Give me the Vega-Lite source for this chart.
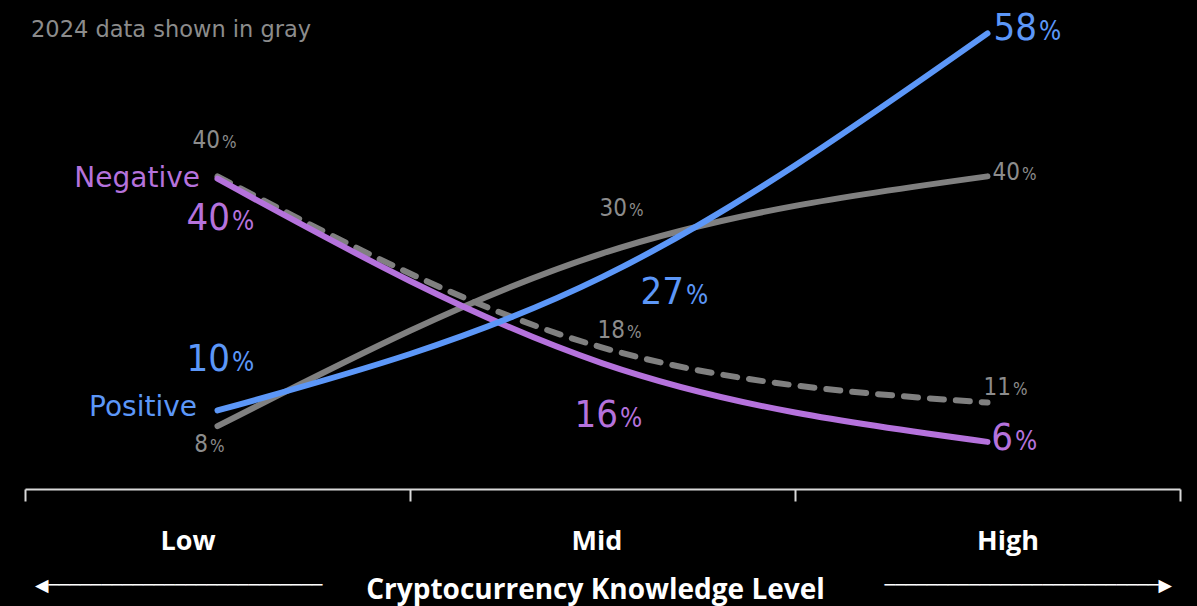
{
  "$schema": "https://vega.github.io/schema/vega-lite/v6.json",
  "width": 1155,
  "height": 487,
  "autosize": "none",
  "padding": {"left": 25, "top": 2, "right": 17, "bottom": 117},
  "background": "#000000",
  "config": {"view": {"stroke": null}},
  "data": {"values": [
    {"level": "Low", "s": "B", "value": 10, "pct": 10},
    {"level": "Mid", "s": "B", "value": 27, "pct": 27},
    {"level": "High", "s": "B", "value": 58, "pct": 58},
    {"level": "Low", "s": "P", "value": 39.5, "pct": 40},
    {"level": "Mid", "s": "P", "value": 16, "pct": 16},
    {"level": "High", "s": "P", "value": 6, "pct": 6},
    {"level": "Low", "s": "G", "value": 8, "pct": 8},
    {"level": "Mid", "s": "G", "value": 30, "pct": 30},
    {"level": "High", "s": "G", "value": 39.8, "pct": 40},
    {"level": "Low", "s": "D", "value": 39.8, "pct": 40},
    {"level": "Mid", "s": "D", "value": 18, "pct": 18},
    {"level": "High", "s": "D", "value": 11, "pct": 11}
  ]},
  "encoding": {
    "x": {"field": "level", "type": "nominal", "sort": ["Low", "Mid", "High"],
      "scale": {"type": "band", "paddingInner": 0, "paddingOuter": 0},
      "axis": {"orient": "bottom", "labelAngle": 0, "domainColor": "#D9D9D9", "domainWidth": 2,
        "ticks": true, "tickBand": "extent", "tickSize": 12, "tickColor": "#D9D9D9", "tickWidth": 2,
        "labelFont": "Open Sans", "labelFontWeight": "bold", "labelFontSize": 27, "labelColor": "#FFFFFF",
        "labelBaseline": "alphabetic", "labelPadding": 48,
        "labelOffset": {"condition": [{"test": "datum.value === 'Low'", "value": -30}, {"test": "datum.value === 'High'", "value": 20}], "value": -6},
        "title": "Cryptocurrency Knowledge Level", "titleFont": "Open Sans", "titleFontWeight": "bold", "titleFontSize": 28, "titleColor": "#FFFFFF",
        "titleBaseline": "alphabetic", "titleAlign": "center", "titleX": 570, "titleY": 109}},
    "y": {"field": "value", "type": "quantitative", "scale": {"domain": [0, 62]}, "axis": null}
  },
  "layer": [
    {"transform": [{"filter": "datum.s === 'G'"}], "mark": {"type": "line", "interpolate": "monotone", "strokeWidth": 6, "strokeCap": "round", "color": "#808080"}},
    {"transform": [{"filter": "datum.s === 'D'"}], "mark": {"type": "line", "interpolate": "monotone", "strokeWidth": 6, "strokeCap": "round", "strokeDash": [14, 12], "color": "#808080"}},
    {"transform": [{"filter": "datum.s === 'P'"}], "mark": {"type": "line", "interpolate": "monotone", "strokeWidth": 6, "strokeCap": "round", "color": "#B572DC"}},
    {"transform": [{"filter": "datum.s === 'B'"}], "mark": {"type": "line", "interpolate": "monotone", "strokeWidth": 6, "strokeCap": "round", "color": "#5C97F8"}},

    {"transform": [{"filter": "datum.s === 'B' && datum.level === 'High'"}], "layer": [
      {"mark": {"type": "text", "align": "right", "baseline": "alphabetic", "dx": 49.5, "dy": 7, "font": "DejaVu Sans Condensed", "fontSize": 38, "color": "#5C97F8"}, "encoding": {"text": {"field": "pct"}}},
      {"mark": {"type": "text", "align": "left", "baseline": "alphabetic", "dx": 51.5, "dy": 7, "font": "DejaVu Sans Condensed", "fontSize": 26, "color": "#5C97F8", "text": "%"}}]},
    {"transform": [{"filter": "datum.s === 'B' && datum.level === 'Mid'"}], "layer": [
      {"mark": {"type": "text", "align": "right", "baseline": "alphabetic", "dx": 81.5, "dy": 27, "font": "DejaVu Sans Condensed", "fontSize": 38, "color": "#5C97F8"}, "encoding": {"text": {"field": "pct"}}},
      {"mark": {"type": "text", "align": "left", "baseline": "alphabetic", "dx": 83.5, "dy": 27, "font": "DejaVu Sans Condensed", "fontSize": 26, "color": "#5C97F8", "text": "%"}}]},
    {"transform": [{"filter": "datum.s === 'B' && datum.level === 'Low'"}], "layer": [
      {"mark": {"type": "text", "align": "right", "baseline": "alphabetic", "dx": 12.5, "dy": -39, "font": "DejaVu Sans Condensed", "fontSize": 38, "color": "#5C97F8"}, "encoding": {"text": {"field": "pct"}}},
      {"mark": {"type": "text", "align": "left", "baseline": "alphabetic", "dx": 14.5, "dy": -39, "font": "DejaVu Sans Condensed", "fontSize": 26, "color": "#5C97F8", "text": "%"}},
      {"mark": {"type": "text", "align": "right", "baseline": "alphabetic", "dx": -20.5, "dy": 6, "font": "DejaVu Sans", "fontSize": 28, "color": "#5C97F8", "text": "Positive"}}]},

    {"transform": [{"filter": "datum.s === 'P' && datum.level === 'Low'"}], "layer": [
      {"mark": {"type": "text", "align": "right", "baseline": "alphabetic", "dx": 12.5, "dy": 51, "font": "DejaVu Sans Condensed", "fontSize": 38, "color": "#B572DC"}, "encoding": {"text": {"field": "pct"}}},
      {"mark": {"type": "text", "align": "left", "baseline": "alphabetic", "dx": 14.5, "dy": 51, "font": "DejaVu Sans Condensed", "fontSize": 26, "color": "#B572DC", "text": "%"}},
      {"mark": {"type": "text", "align": "right", "baseline": "alphabetic", "dx": -17.5, "dy": 8, "font": "DejaVu Sans", "fontSize": 28, "color": "#B572DC", "text": "Negative"}}]},
    {"transform": [{"filter": "datum.s === 'P' && datum.level === 'Mid'"}], "layer": [
      {"mark": {"type": "text", "align": "right", "baseline": "alphabetic", "dx": 15.5, "dy": 64, "font": "DejaVu Sans Condensed", "fontSize": 38, "color": "#B572DC"}, "encoding": {"text": {"field": "pct"}}},
      {"mark": {"type": "text", "align": "left", "baseline": "alphabetic", "dx": 17.5, "dy": 64, "font": "DejaVu Sans Condensed", "fontSize": 26, "color": "#B572DC", "text": "%"}}]},
    {"transform": [{"filter": "datum.s === 'P' && datum.level === 'High'"}], "layer": [
      {"mark": {"type": "text", "align": "right", "baseline": "alphabetic", "dx": 25.5, "dy": 8, "font": "DejaVu Sans Condensed", "fontSize": 38, "color": "#B572DC"}, "encoding": {"text": {"field": "pct"}}},
      {"mark": {"type": "text", "align": "left", "baseline": "alphabetic", "dx": 27.5, "dy": 8, "font": "DejaVu Sans Condensed", "fontSize": 26, "color": "#B572DC", "text": "%"}}]},

    {"transform": [{"filter": "datum.s === 'G' && datum.level === 'Low'"}], "layer": [
      {"mark": {"type": "text", "align": "right", "baseline": "alphabetic", "dx": -9.5, "dy": 26, "font": "DejaVu Sans Condensed", "fontSize": 24, "color": "#8C8C8C"}, "encoding": {"text": {"field": "pct"}}},
      {"mark": {"type": "text", "align": "left", "baseline": "alphabetic", "dx": -7.5, "dy": 26, "font": "DejaVu Sans Condensed", "fontSize": 17, "color": "#8C8C8C", "text": "%"}}]},
    {"transform": [{"filter": "datum.s === 'G' && datum.level === 'Mid'"}], "layer": [
      {"mark": {"type": "text", "align": "right", "baseline": "alphabetic", "dx": 24.5, "dy": -37, "font": "DejaVu Sans Condensed", "fontSize": 24, "color": "#8C8C8C"}, "encoding": {"text": {"field": "pct"}}},
      {"mark": {"type": "text", "align": "left", "baseline": "alphabetic", "dx": 26.5, "dy": -37, "font": "DejaVu Sans Condensed", "fontSize": 17, "color": "#8C8C8C", "text": "%"}}]},
    {"transform": [{"filter": "datum.s === 'G' && datum.level === 'High'"}], "layer": [
      {"mark": {"type": "text", "align": "right", "baseline": "alphabetic", "dx": 32.5, "dy": 4, "font": "DejaVu Sans Condensed", "fontSize": 24, "color": "#8C8C8C"}, "encoding": {"text": {"field": "pct"}}},
      {"mark": {"type": "text", "align": "left", "baseline": "alphabetic", "dx": 34.5, "dy": 4, "font": "DejaVu Sans Condensed", "fontSize": 17, "color": "#8C8C8C", "text": "%"}}]},

    {"transform": [{"filter": "datum.s === 'D' && datum.level === 'Low'"}], "layer": [
      {"mark": {"type": "text", "align": "right", "baseline": "alphabetic", "dx": 2.5, "dy": -28, "font": "DejaVu Sans Condensed", "fontSize": 24, "color": "#8C8C8C"}, "encoding": {"text": {"field": "pct"}}},
      {"mark": {"type": "text", "align": "left", "baseline": "alphabetic", "dx": 4.5, "dy": -28, "font": "DejaVu Sans Condensed", "fontSize": 17, "color": "#8C8C8C", "text": "%"}}]},
    {"transform": [{"filter": "datum.s === 'D' && datum.level === 'Mid'"}], "layer": [
      {"mark": {"type": "text", "align": "right", "baseline": "alphabetic", "dx": 22.5, "dy": -10, "font": "DejaVu Sans Condensed", "fontSize": 24, "color": "#8C8C8C"}, "encoding": {"text": {"field": "pct"}}},
      {"mark": {"type": "text", "align": "left", "baseline": "alphabetic", "dx": 24.5, "dy": -10, "font": "DejaVu Sans Condensed", "fontSize": 17, "color": "#8C8C8C", "text": "%"}}]},
    {"transform": [{"filter": "datum.s === 'D' && datum.level === 'High'"}], "layer": [
      {"mark": {"type": "text", "align": "right", "baseline": "alphabetic", "dx": 23.5, "dy": -8, "font": "DejaVu Sans Condensed", "fontSize": 24, "color": "#8C8C8C"}, "encoding": {"text": {"field": "pct"}}},
      {"mark": {"type": "text", "align": "left", "baseline": "alphabetic", "dx": 25.5, "dy": -8, "font": "DejaVu Sans Condensed", "fontSize": 17, "color": "#8C8C8C", "text": "%"}}]},

    {"transform": [{"filter": "datum.s === 'G' && datum.level === 'Low'"}], "layer": [
      {"mark": {"type": "text", "align": "left", "baseline": "alphabetic", "dx": -186.5, "font": "DejaVu Sans", "fontSize": 22.5, "color": "#8C8C8C", "text": "2024 data shown in gray"},
        "encoding": {"x": {"datum": "Low"}, "y": {"datum": 57.5}}},
      {"mark": {"type": "text", "align": "left", "baseline": "middle", "dx": -182.5, "font": "DejaVu Sans", "fontSize": 17.5, "color": "#FFFFFF", "text": "◀──────────────────────────"},
        "encoding": {"x": {"datum": "Low"}, "y": {"datum": -12.4}}},
      {"mark": {"type": "text", "align": "right", "baseline": "middle", "dx": 184.5, "font": "DejaVu Sans", "fontSize": 17.5, "color": "#FFFFFF", "text": "──────────────────────────▶"},
        "encoding": {"x": {"datum": "High"}, "y": {"datum": -12.4}}}]}
  ]
}
